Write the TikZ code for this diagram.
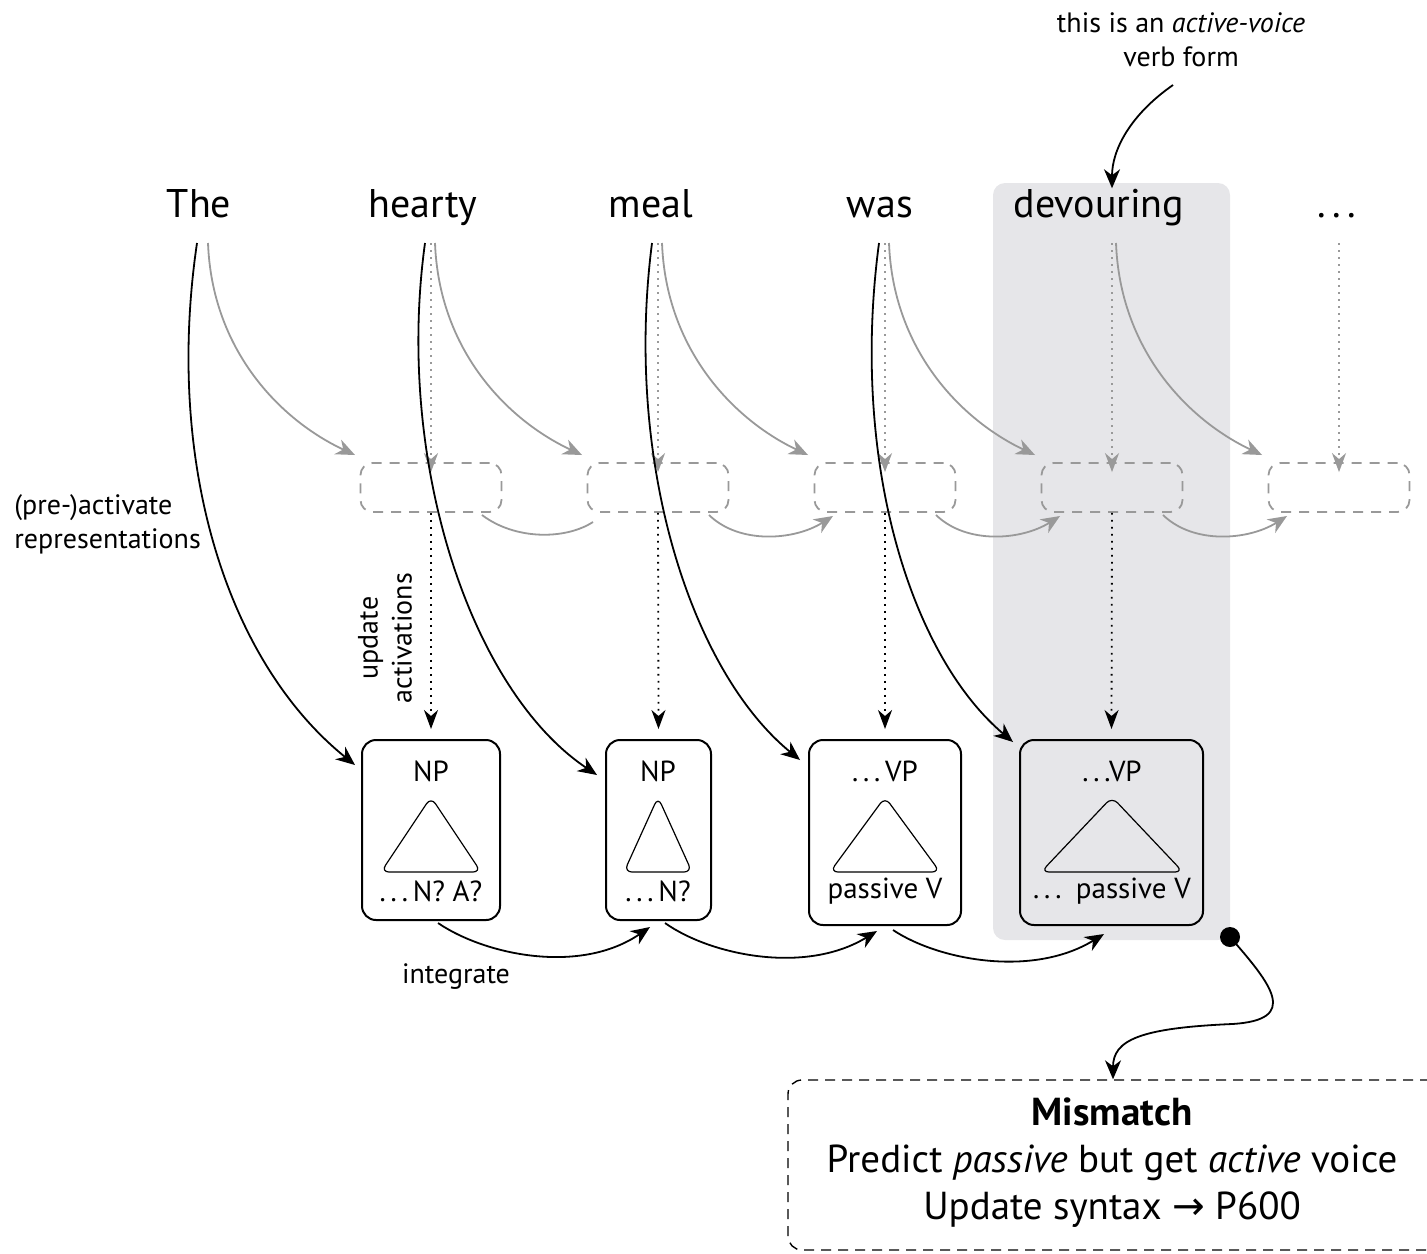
\documentclass[tikz,border=0pt]{standalone}
\usepackage{fontspec}
\setmainfont{PT Sans}
\newfontfamily\symfont{DejaVu Sans}
\usetikzlibrary{arrows.meta}
\definecolor{hl}{HTML}{E6E6E9}
\definecolor{lg}{HTML}{999999}
\tikzset{
  px/.style={x=0.5pt,y=-0.5pt},
  word/.style={font=\fontsize{20}{24}\selectfont, anchor=base, inner sep=0pt},
  lbl/.style={font=\fontsize{14}{17}\selectfont, inner sep=0pt},
  boxlbl/.style={font=\fontsize{14.5}{17}\selectfont, inner sep=0pt},
  predbox/.style={draw=lg, dashed, dash pattern=on 5pt off 4pt, line width=0.9pt, rounded corners=6pt, minimum width=70.5pt, minimum height=24.5pt, inner sep=0pt},
  synbox/.style={draw=black, line width=1pt, rounded corners=7pt, inner sep=0pt},
  tri/.style={draw=black, line width=0.6pt, rounded corners=4pt},
  blk/.style={draw=black, line width=0.9pt, -{Stealth[length=9.5pt,width=8pt,inset=3pt]}},
  gry/.style={draw=lg, line width=0.9pt, -{Stealth[length=9.5pt,width=8pt,inset=3pt]}},
  gdot/.style={draw=lg, line width=0.9pt, dash pattern=on 0.9pt off 2.6pt, -{Stealth[length=9.5pt,width=7pt,inset=3pt]}},
  bdot/.style={draw=black, line width=0.9pt, dash pattern=on 0.9pt off 2.6pt, -{Stealth[length=9.5pt,width=7pt,inset=3pt]}},
}
\begin{document}
\begin{tikzpicture}[px]
\useasboundingbox (0,0) rectangle (1427,1253);
\clip (0,0) rectangle (1427,1253);
% highlight column
\fill[hl, rounded corners=6pt] (993,183) rectangle (1230,940);

% words
\node[word] (w1) at (199,217) {The};
\node[word] (w2) at (423,217) {hearty};
\node[word] (w3) at (651,217) {meal};
\node[word] (w4) at (880,217) {was};
\node[word] (w5) at (1099,217) {devouring};
\node[word] (w6) at (1337,217) {.\,.\,.};

% start coordinates under words
\coordinate (b1) at (197,243);
\coordinate (g1) at (208,243);
\coordinate (b2) at (425,243);
\coordinate (d2) at (431,243);
\coordinate (g2) at (435,243);
\coordinate (b3) at (652,243);
\coordinate (d3) at (658,243);
\coordinate (g3) at (662,243);
\coordinate (b4) at (879,243);
\coordinate (d4) at (885,243);
\coordinate (g4) at (889,243);
\coordinate (d5) at (1112,243);
\coordinate (g5) at (1116,243);
\coordinate (d6) at (1339,243);

% prediction (dashed) boxes
\node[predbox] (p1) at (431,487.5) {};
\node[predbox] (p2) at (658,487.5) {};
\node[predbox] (p3) at (885,487.5) {};
\node[predbox] (p4) at (1112,487.5) {};
\node[predbox] (p5) at (1339,487.5) {};

% syntax boxes
\node[synbox, minimum width=69pt, minimum height=90pt] (s1) at (431,830) {};
\node[synbox, minimum width=52.5pt, minimum height=90pt] (s2) at (658.5,830) {};
\node[synbox, minimum width=76pt, minimum height=92.5pt] (s3) at (885,832.5) {};
\node[synbox, minimum width=91.5pt, minimum height=92.5pt] (s4) at (1111.5,832.5) {};

% box labels
\node[boxlbl] (t1) at (431,771) {NP};
\node[boxlbl] (t2) at (658,771) {NP};
\node[boxlbl] (t3) at (885,771) {.\,.\,.\,VP};
\node[boxlbl] (t4) at (1112,771) {.\,.\,.VP};
\node[boxlbl] (u1) at (431,891) {.\,.\,.\,N? A?};
\node[boxlbl] (u2) at (658,891) {.\,.\,.\,N?};
\node[boxlbl] (u3) at (885,891) {passive V};
\node[boxlbl] (u4) at (1112,891) {.\,.\,.\enspace passive V};

% triangles
\draw[tri] (431,797) -- (481,872) -- (381,872) -- cycle;
\draw[tri] (658,797) -- (692,872) -- (624,872) -- cycle;
\draw[tri] (885,797) -- (940,872) -- (830,872) -- cycle;
\draw[tri] (1112,797) -- (1183,872) -- (1041,872) -- cycle;

% gray dotted arrows: words -> prediction boxes
\draw[gdot] (d2) -- ([yshift=-5pt]p1.north);
\draw[gdot] (d3) -- ([yshift=-5pt]p2.north);
\draw[gdot] (d4) -- ([yshift=-5pt]p3.north);
\draw[gdot] (d5) -- ([yshift=-5pt]p4.north);
\draw[gdot] (d6) -- ([yshift=-5pt]p5.north);

% black dotted arrows: prediction boxes -> syntax boxes
\draw[bdot] (p1.south) -- ([yshift=5pt]s1.north);
\draw[bdot] (p2.south) -- ([yshift=5pt]s2.north);
\draw[bdot] (p3.south) -- ([yshift=5pt]s3.north);
\draw[bdot] (p4.south) -- ([yshift=5pt]s4.north);

% gray curved arrows: words -> next prediction box
\coordinate (q2) at (355,455);
\coordinate (q3) at (582,455);
\coordinate (q4) at (808,455);
\coordinate (q5) at (1035,455);
\coordinate (q6) at (1262,455);
\draw[gry] (g1) .. controls (212,350) and (280,420) .. (q2);
\draw[gry] (g2) .. controls (439,350) and (507,420) .. (q3);
\draw[gry] (g3) .. controls (666,350) and (734,420) .. (q4);
\draw[gry] (g4) .. controls (893,350) and (961,420) .. (q5);
\draw[gry] (g5) .. controls (1120,350) and (1188,420) .. (q6);

% gray arrows between prediction boxes
\coordinate (r1) at (482,515);
\coordinate (r2) at (709,515);
\coordinate (r3) at (936,515);
\coordinate (r4) at (1163,515);
\coordinate (e2) at (593,522);
\coordinate (e3) at (833,516);
\coordinate (e4) at (1060,516);
\coordinate (e5) at (1287,516);
\draw[draw=lg, line width=0.9pt] (r1) .. controls (515,540) and (565,540) .. (e2);
\draw[gry] (r2) .. controls (740,545) and (795,540) .. (e3);
\draw[gry] (r3) .. controls (967,545) and (1022,540) .. (e4);
\draw[gry] (r4) .. controls (1194,545) and (1249,540) .. (e5);

% black curved arrows: words -> syntax boxes
\coordinate (k1) at (355,765);
\coordinate (k2) at (597,775);
\coordinate (k3) at (800,760);
\coordinate (k4) at (1013,742);
\draw[blk] (b1) .. controls (165,460) and (225,660) .. (k1);
\draw[blk] (b2) .. controls (395,460) and (470,690) .. (k2);
\draw[blk] (b3) .. controls (624,460) and (690,670) .. (k3);
\draw[blk] (b4) .. controls (850,460) and (910,655) .. (k4);

% integrate arrows
\coordinate (i1) at (438,923);
\coordinate (i2) at (665,923);
\coordinate (i3) at (893,930);
\coordinate (j2) at (650,927);
\coordinate (j3) at (877,931);
\coordinate (j4) at (1104,934);
\draw[blk] (i1) .. controls (485,955) and (580,975) .. (j2);
\draw[blk] (i2) .. controls (710,955) and (805,975) .. (j3);
\draw[blk] (i3) .. controls (938,960) and (1032,978) .. (j4);

% labels
\node[lbl, align=left, anchor=west] (pre) at (14,524) {(pre-)activate\\representations};
\node[lbl, align=center, rotate=90] (upd) at (385,638) {update\\activations};
\node[lbl] (integ) at (456,977) {integrate};
\node[lbl, align=center] (note) at (1181,40) {this is an \textit{active-voice}\\verb form};
\coordinate (n1) at (1173,85);
\draw[blk] (n1) .. controls (1130,115) and (1112,150) .. (w5.north -| 1112,0) ;

% mismatch box
\node[draw=black, dashed, dash pattern=on 5pt off 3.5pt, line width=0.7pt, rounded corners=7pt, minimum width=345pt, minimum height=85pt, inner sep=0pt] (mm) at (1133,1165) {};
\node[font=\fontsize{19.5}{23.5}\selectfont, align=center] (mmt) at (1112,1163) {\textbf{Mismatch}\\Predict \textit{passive} but get \textit{active} voice\\Update syntax {\symfont →} P600};

% mismatch connector
\fill (1230,937) circle (5pt) coordinate (dot);
\coordinate (mid) at (1232,1024);
\draw[blk] (dot) .. controls (1272,985) and (1300,1020) .. (mid) .. controls (1140,1028) and (1113,1040) .. (mm.north -| 1113,0);
\end{tikzpicture}
\end{document}
